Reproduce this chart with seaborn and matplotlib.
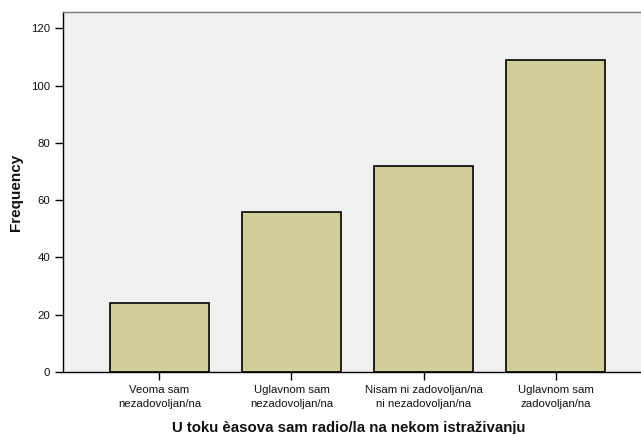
import matplotlib.pyplot as plt
import seaborn as sns

categories = ['Veoma sam\nnezadovoljan/na', 'Uglavnom sam\nnezadovoljan/na',
              'Nisam ni zadovoljan/na\nni nezadovoljan/na', 'Uglavnom sam\nzadovoljan/na']
counts = [24, 56, 72, 109]
yticks = [0, 20, 40, 60, 80, 100, 120]

sns.set_style('white')
plt.rcParams['font.family'] = ['Liberation Sans', 'DejaVu Sans']

fig = plt.figure(figsize=(6.41, 4.34), dpi=100)
ax = fig.add_axes([63 / 641, 62 / 434, 589 / 641, 360 / 434])
ax.set_facecolor('#f0f0f0')

sns.barplot(x=categories, y=counts, color='#d3ce97', saturation=1,
            edgecolor='black', linewidth=1.2, width=0.75, ax=ax)

ax.set_xlim(-0.73, 3.73)
ax.set_ylim(0, 125.7)
ax.set_yticks(yticks)
ax.tick_params(axis='both', direction='out', length=5.6, width=1, color='black',
               labelsize=8.2, labelcolor='#111111', bottom=True, left=True)
ax.tick_params(axis='x', pad=4)
for lbl in ax.get_xticklabels():
    lbl.set_linespacing(1.5)

for side in ['left', 'bottom']:
    ax.spines[side].set_color('black')
    ax.spines[side].set_linewidth(1)
ax.spines['top'].set_color('#777777')
ax.spines['top'].set_linewidth(1)
ax.spines['right'].set_visible(False)

ax.set_xlabel('U toku èasova sam radio/la na nekom istraživanju',
              fontsize=10.8, fontweight='bold', color='#111111')
ax.set_ylabel('Frequency', fontsize=11, fontweight='bold', color='#111111')
ax.xaxis.set_label_coords(0.4847, -0.137)
ax.yaxis.set_label_coords(-0.068, 0.5)

fig.savefig('out.png', dpi=100)
